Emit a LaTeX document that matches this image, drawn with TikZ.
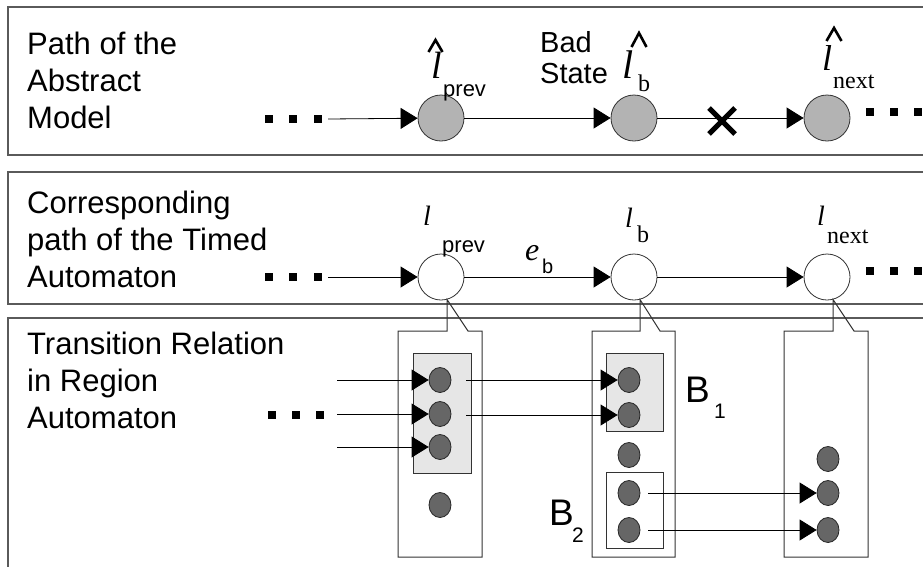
\documentclass[tikz,border=0pt]{standalone}
\usepackage{fontspec}
\setmainfont{Liberation Sans}
\newfontfamily\tnr{Liberation Serif}
\usetikzlibrary{arrows.meta,shapes.geometric}

\definecolor{absfill}{HTML}{B3B3B3}
\definecolor{regfill}{HTML}{666666}
\definecolor{grpfill}{HTML}{E6E6E6}
\definecolor{panelline}{HTML}{5A5A5A}

\tikzset{
  panel/.style={draw=panelline, line width=1.3pt},
  absstate/.style={circle, draw=black!80, fill=absfill, line width=0.8pt, minimum size=46pt, inner sep=0pt},
  tastate/.style={circle, draw=black!80, fill=white, line width=0.8pt, minimum size=46pt, inner sep=0pt},
  rstate/.style={ellipse, draw=black!85, fill=regfill, line width=0.8pt, minimum width=22pt, minimum height=25pt, inner sep=0pt},
  grpbox/.style={rectangle, draw=black!80, line width=0.9pt, inner sep=0pt},
  sq/.style={rectangle, fill=black, minimum size=8pt, inner sep=0pt},
  arr/.style={-{Triangle[length=17pt,width=21pt]}, line width=0.8pt, black},
  callout/.style={draw=black!80, line width=1pt},
  xmark/.style={line width=5pt, black},
  hatmark/.style={line width=2.6pt, black, miter limit=10},
  lbl/.style={inner sep=0pt, align=left, anchor=north west, font=\fontsize{31}{37}\selectfont},
  lsym/.style={inner sep=0pt, anchor=base west, font=\tnr\itshape\fontsize{#1}{#1}\selectfont},
  subsf/.style={inner sep=0pt, anchor=base west, font=\fontsize{#1}{#1}\selectfont},
  subrm/.style={inner sep=0pt, anchor=base west, font=\tnr\fontsize{#1}{#1}\selectfont},
}

\begin{document}
\begin{tikzpicture}[x=1pt, y=-1pt]
\useasboundingbox (0,0) rectangle (923,566);
\clip (0,0) rectangle (923,566);
\fill[white] (0,0) rectangle (923,566);

% three horizontal panels, open to the right (and bottom for the last)
\draw[panel] (940,7) -- (8,7) -- (8,155) -- (940,155);
\draw[panel] (940,172) -- (8,172) -- (8,304) -- (940,304);
\draw[panel] (940,318) -- (8,318) -- (8,580);

% panel captions
\node[lbl] (cap1) at (27,32) {Path of the\\Abstract\\Model};
\node[lbl] (cap2) at (27,191) {Corresponding\\path of the Timed\\Automaton};
\node[lbl] (cap3) at (27,332) {Transition Relation\\in Region\\Automaton};

% ---------------- abstract model path ----------------
\node[absstate] (ap) at (441,118) {};
\node[absstate] (ab) at (634,118) {};
\node[absstate] (an) at (827,118) {};

\node[sq] (la1) at (269,119) {};
\node[sq] (la2) at (293,119) {};
\node[sq] (la3) at (318,119) {};
\node[sq] (ra1) at (870,112) {};
\node[sq] (ra2) at (894,112) {};
\node[sq] (ra3) at (918,112) {};

\draw[arr] ([xshift=6pt]la3.east) -- (ap);
\draw[arr] (ap) -- (ab);
\draw[arr] (ab) -- (an);
\coordinate (cut) at (722,121);
\draw[xmark] ([shift={(-13,-13)}]cut) -- ([shift={(13,13)}]cut);
\draw[xmark] ([shift={(-13,13)}]cut) -- ([shift={(13,-13)}]cut);

% labels of the abstract locations
\node[lsym=38] (lap) at (431,78) {l};
\node[subsf=22] (lapi) at (443,96) {prev};
\draw[hatmark] (428.5,52) -- (435.5,40) -- (442.5,52);

\node[anchor=north west, inner sep=0pt, align=left, font=\fontsize{29}{31}\selectfont] (bad) at (540,31) {Bad\\State};
\node[lsym=40] (lab) at (622,78) {l};
\node[subrm=24] (labi) at (638,91) {b};
\draw[hatmark] (631.5,47) -- (639,33) -- (646.5,47);

\node[lsym=36] (lan) at (822,70) {l};
\node[subrm=24] (lani) at (833,88) {next};
\draw[hatmark] (826.5,41) -- (834,28) -- (841.5,41);

% ---------------- timed automaton path ----------------
\node[tastate] (tp) at (441,277) {};
\node[tastate] (tb) at (634,277) {};
\node[tastate] (tn) at (827,277) {};

\node[sq] (lt1) at (269,277) {};
\node[sq] (lt2) at (293,277) {};
\node[sq] (lt3) at (318,277) {};
\node[sq] (rt1) at (870,271) {};
\node[sq] (rt2) at (894,271) {};
\node[sq] (rt3) at (918,271) {};

\draw[arr] ([xshift=6pt]lt3.east) -- (tp);
\draw[arr] (tp) -- (tb);
\draw[arr] (tb) -- (tn);

\node[lsym=28] (ltp) at (423,225) {l};
\node[subsf=22] (ltpi) at (442,252) {prev};
\node[lsym=28] (ltb) at (625,227) {l};
\node[subrm=24] (ltbi) at (637,242) {b};
\node[lsym=28] (ltn) at (817,225) {l};
\node[subrm=24] (ltni) at (827,243) {next};
\node[lsym=32] (eb) at (525,260) {e};
\node[subsf=20] (ebi) at (542,273) {b};

% ---------------- region automaton ----------------
% call-outs hanging from each timed-automaton location
\draw[callout] (tp.-75) -- (468,331) -- (482,331) -- (482,557) -- (398,557) -- (398,331) -- (447,331) -- cycle;
\draw[callout] (tb.-75) -- (660,331) -- (675,331) -- (675,557) -- (592,557) -- (592,331) -- (640,331) -- cycle;
\draw[callout] (tn.-75) -- (854,331) -- (868,331) -- (868,557) -- (784,557) -- (784,331) -- (833,331) -- cycle;

% groups of regions
\node[grpbox, fill=grpfill, minimum width=58pt, minimum height=120pt] (g1) at (442,413) {};
\node[grpbox, fill=grpfill, minimum width=57pt, minimum height=78pt] (gb1) at (634.5,392) {};
\node[grpbox, fill=white, minimum width=57pt, minimum height=76pt] (gb2) at (634.5,510) {};

% regions
\node[rstate] (r11) at (440,380) {};
\node[rstate] (r12) at (440,414) {};
\node[rstate] (r13) at (440,447) {};
\node[rstate] (r14) at (440,505) {};
\node[rstate] (r21) at (629,380) {};
\node[rstate] (r22) at (629,415) {};
\node[rstate] (r23) at (629,455) {};
\node[rstate] (r24) at (629,493) {};
\node[rstate] (r25) at (629,530) {};
\node[rstate] (r31) at (828,459) {};
\node[rstate] (r32) at (828,493) {};
\node[rstate] (r33) at (828,530) {};

\node[sq] (lr1) at (272,415) {};
\node[sq] (lr2) at (296,415) {};
\node[sq] (lr3) at (320,415) {};

% incoming and outgoing region transitions
\coordinate (inx) at (337,0);
\coordinate (outx) at (466,0);
\coordinate (outy) at (648,0);
\draw[arr] (r11.west -| inx) -- (r11.west);
\draw[arr] (r12.west -| inx) -- (r12.west);
\draw[arr] (r13.west -| inx) -- (r13.west);
\draw[arr] (r21.west -| outx) -- (r21.west);
\draw[arr] (r22.west -| outx) -- (r22.west);
\draw[arr] (r32.west -| outy) -- (r32.west);
\draw[arr] (r33.west -| outy) -- (r33.west);

% block names
\node[subsf=37] (b1) at (685,402) {B};
\node[subsf=21] (b1i) at (714,418) {1};
\node[subsf=37] (b2) at (549,525) {B};
\node[subsf=21] (b2i) at (572,542) {2};
\end{tikzpicture}
\end{document}
